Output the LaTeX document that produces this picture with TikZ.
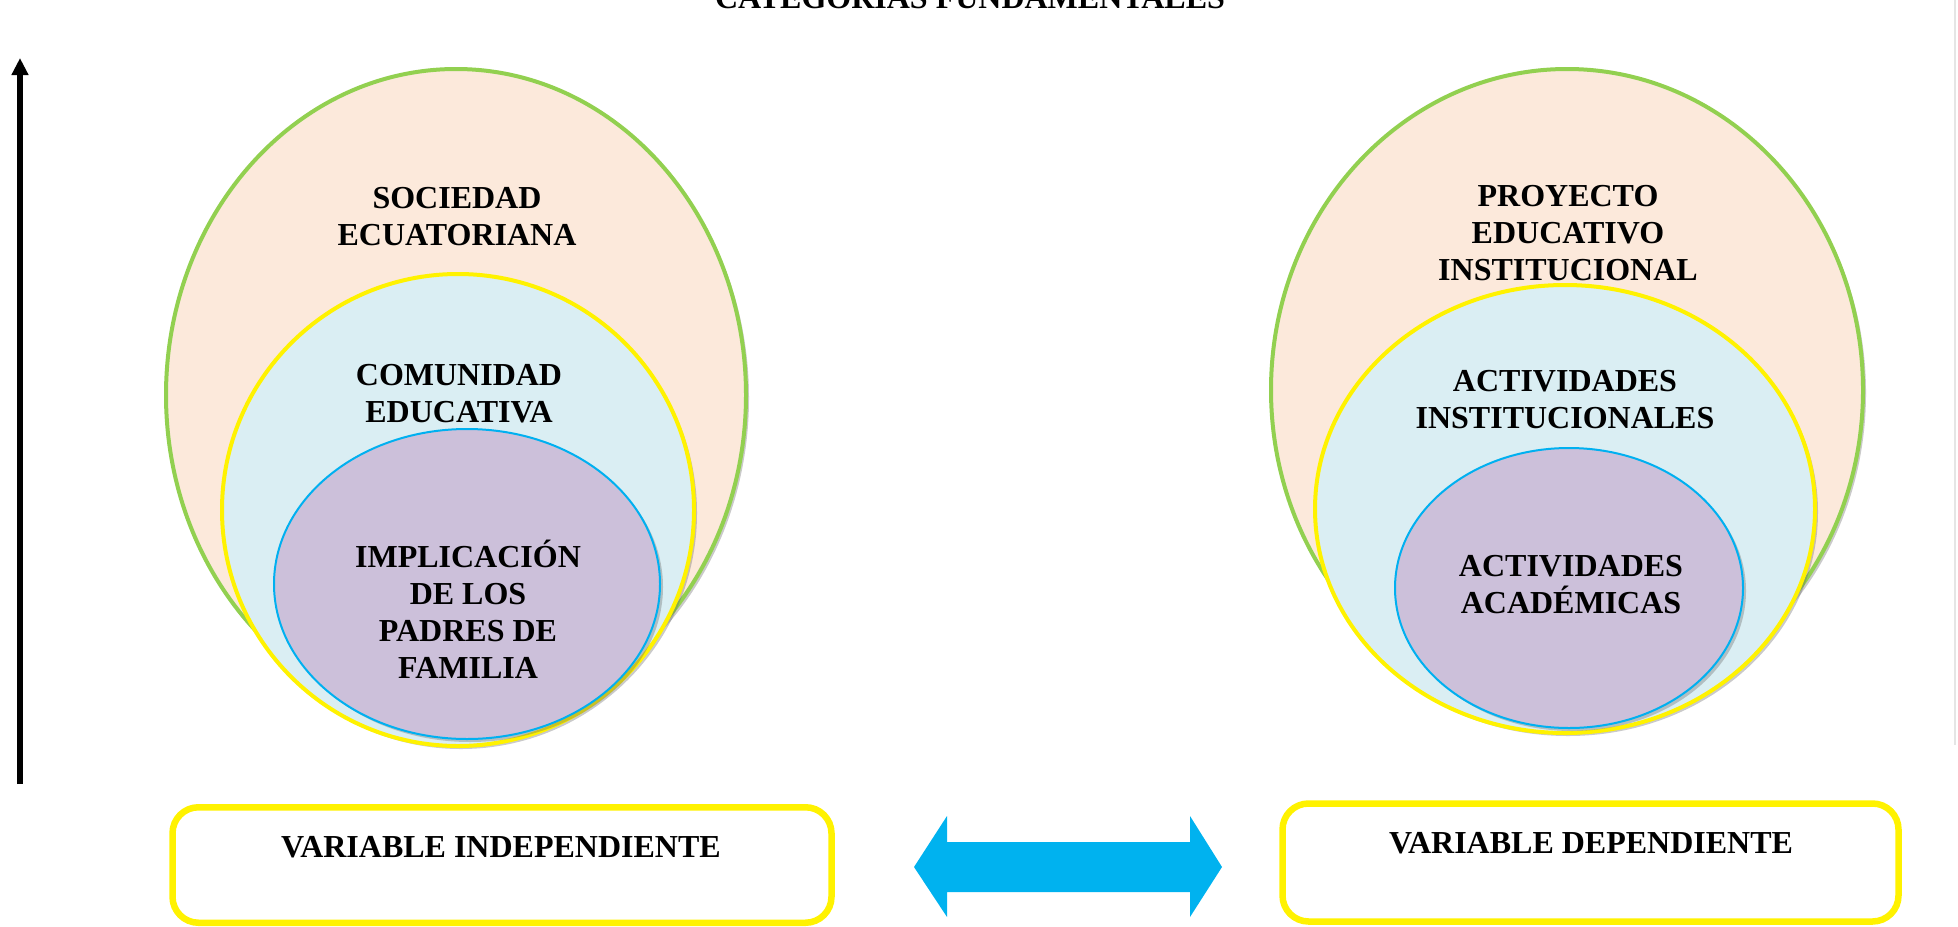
\documentclass[tikz,border=0pt]{standalone}
\usepackage{fontspec}
\setmainfont{Liberation Serif}
\usetikzlibrary{shapes.geometric,shadows,arrows.meta}
\definecolor{peach}{HTML}{FCE9DB}
\definecolor{paleblue}{HTML}{DAEEF3}
\definecolor{lilac}{HTML}{CCC0DA}
\definecolor{ringgreen}{HTML}{92D050}
\definecolor{cyanline}{HTML}{00B0F0}
\definecolor{arrowblue}{HTML}{00B2EF}
\begin{document}
\begin{tikzpicture}[x=0.5pt,y=-0.5pt,
  txt/.style={font=\bfseries\fontsize{16}{18.5}\selectfont, align=center, inner sep=0pt},
  ring/.style={ellipse, inner sep=0pt, drop shadow={shadow xshift=1.5pt, shadow yshift=-1.5pt, opacity=0.35, fill=black!60}},
  outerring/.style={ring, draw=ringgreen, line width=2pt, fill=peach},
  midring/.style={ring, draw=yellow, line width=2pt, fill=paleblue},
  innerring/.style={ring, draw=cyanline, line width=1pt, fill=lilac},
  varbox/.style={draw=yellow, line width=3.25pt, rounded corners=13pt, fill=white, inner sep=0pt}
]
\useasboundingbox (0,0) rectangle (1958,926);

% title (cut by the top edge)
\node[txt, anchor=base] (title) at (970,9) {CATEGORIAS FUNDAMENTALES};

% vertical arrow
\coordinate (abot) at (20,784);
\coordinate (atop) at (20,58);
\draw[line width=3pt, -{Triangle[width=8pt,length=8.5pt]}] (abot) -- (atop);

% faint right edge line
\draw[black!10, line width=0.8pt] (1955,0) -- (1955,745);

% left group
\node[outerring, minimum width=290pt, minimum height=326pt] (soc) at (456,395) {};
\node[midring, minimum width=236pt, minimum height=236pt] (com) at (458,510) {};
\node[innerring, minimum width=193pt, minimum height=155pt] (imp) at (467,584) {};
\node[txt] (socT) at (457,217) {SOCIEDAD\\ECUATORIANA};
\node[txt] (comT) at (459,394) {COMUNIDAD\\EDUCATIVA};
\node[txt] (impT) at (468,609) {IMPLICACIÓN\\DE LOS\\PADRES DE\\FAMILIA};

% right group
\node[outerring, minimum width=296pt, minimum height=321pt] (pei) at (1567,390) {};
\node[midring, minimum width=250pt, minimum height=224pt] (ains) at (1565,509) {};
\node[innerring, minimum width=174pt, minimum height=140pt] (aaca) at (1569,588) {};
\node[txt] (peiT) at (1568,233) {PROYECTO\\EDUCATIVO\\INSTITUCIONAL};
\node[txt] (ainsT) at (1565,400) {ACTIVIDADES\\INSTITUCIONALES};
\node[txt] (aacaT) at (1571,585) {ACTIVIDADES\\ACADÉMICAS};

% variable boxes
\node[varbox, minimum width=329.5pt, minimum height=57.75pt] (vi) at (502,865) {};
\node[txt] (viT) at (501,847) {VARIABLE INDEPENDIENTE};
\node[varbox, minimum width=308pt, minimum height=59pt] (vd) at (1590.5,862.5) {};
\node[txt] (vdT) at (1591,843) {VARIABLE DEPENDIENTE};

% double arrow
\fill[arrowblue] (914,867) -- (947,816) -- (947,842) -- (1190,842) -- (1190,816)
  -- (1222,867) -- (1190,917) -- (1190,892) -- (947,892) -- (947,917) -- cycle;
\end{tikzpicture}
\end{document}
